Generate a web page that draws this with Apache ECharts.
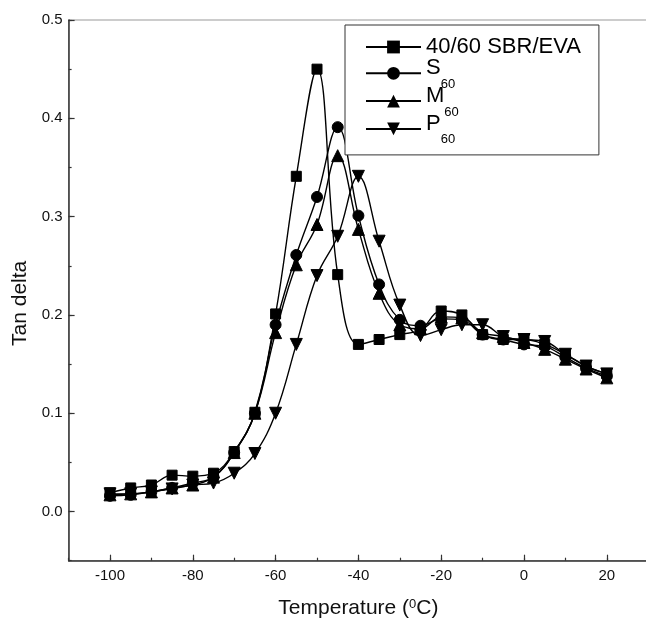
<!DOCTYPE html>
<html><head><meta charset="utf-8">
<script src="https://cdn.jsdelivr.net/npm/echarts@6/dist/echarts.min.js"></script>
<style>html,body{margin:0;padding:0;background:#fff}#c{width:646px;height:618px}</style>
</head><body><div id="c"></div>
<script>
const temperatures = [-100,-95,-90,-85,-80,-75,-70,-65,-60,-55,-50,-45,-40,-35,-30,-25,-20,-15,-10,-5,0,5,10,15,20];
const sbrEva = [0.019,0.024,0.027,0.037,0.036,0.039,0.061,0.101,0.201,0.341,0.450,0.241,0.170,0.175,0.180,0.185,0.204,0.200,0.180,0.175,0.175,0.170,0.160,0.148,0.140];
const s60    = [0.016,0.017,0.020,0.024,0.029,0.035,0.060,0.100,0.190,0.261,0.320,0.391,0.301,0.231,0.195,0.189,0.196,0.195,0.180,0.175,0.170,0.168,0.157,0.146,0.138];
const m60    = [0.017,0.018,0.020,0.024,0.027,0.035,0.060,0.100,0.182,0.251,0.292,0.362,0.287,0.222,0.190,0.186,0.198,0.197,0.182,0.178,0.172,0.165,0.155,0.145,0.136];
const p60    = [0.018,0.018,0.020,0.023,0.027,0.029,0.039,0.059,0.100,0.170,0.240,0.280,0.341,0.275,0.210,0.179,0.185,0.190,0.190,0.178,0.175,0.173,0.160,0.148,0.140];
const seriesNames = ['40/60 SBR/EVA','S60','M60','P60'];
const xMajorTicks = [-100,-80,-60,-40,-20,0,20];
const yMajorTicks = [0,0.1,0.2,0.3,0.4,0.5];
const xTitle = 'Temperature (';
const yTitle = 'Tan delta';

const FONT = '"Liberation Sans", Arial, sans-serif';
const chart = echarts.init(document.getElementById('c'), null, {renderer:'canvas'});
function pairs(ys){ return temperatures.map((t,i)=>[t, ys[i]]); }
function mk(name, data, symbol, size, rot){
  return {
    name, type:'line', data: pairs(data), smooth:0.4,
    symbol, symbolSize:size, symbolRotate: rot||0,
    lineStyle:{color:'#000', width:1.4},
    itemStyle:{color:'#000', borderColor:'#000'},
    emphasis:{disabled:true}, animation:false, z:3
  };
}
const axisLineStyle = {color:'#333', width:1.5};
const option = {
  animation:false,
  backgroundColor:'#fff',
  grid:{left:68.6, width:579.6, top:20, bottom:57.3, show:true, borderColor:'#999', borderWidth:1,
        containLabel:false, outerBoundsMode:'none'},
  xAxis:[{
    type:'value', min:-110, max:30, interval:10,
    axisLine:{show:true, onZero:false, lineStyle:axisLineStyle},
    axisTick:{show:true, inside:true, length:3, lineStyle:{color:'#333', width:1.2}},
    splitLine:{show:false},
    axisLabel:{color:'#111', fontFamily:FONT, fontSize:15, margin:8,
      formatter:v=> (Math.abs(v%20)<1e-9 ? String(v) : '')},
    name: xTitle + '{sup|0}C)', nameLocation:'middle', nameGap:37,
    nameTextStyle:{color:'#111', fontFamily:FONT, fontSize:21,
      rich:{sup:{fontSize:13, fontFamily:FONT, color:'#111', verticalAlign:'top', lineHeight:12, padding:[0,0,10,0]}}}
  },{
    type:'value', min:-110, max:30, position:'bottom',
    axisLine:{show:false, onZero:false}, axisLabel:{show:false}, splitLine:{show:false},
    axisTick:{show:true, inside:true, length:6, customValues:xMajorTicks, lineStyle:{color:'#333', width:1.2}}
  }],
  yAxis:[{
    type:'value', min:-0.05, max:0.5, interval:0.05,
    axisLine:{show:true, onZero:false, lineStyle:axisLineStyle},
    axisTick:{show:true, inside:true, length:3, lineStyle:{color:'#333', width:1.2}},
    splitLine:{show:false},
    axisLabel:{color:'#111', fontFamily:FONT, fontSize:15, margin:6,
      formatter:v=>{ const r=Math.round(v*10); return Math.abs(r-v*10)<1e-6 ? (r/10).toFixed(1) : ''; }},
    name: yTitle, nameLocation:'middle', nameGap:37, nameRotate:90,
    nameTextStyle:{color:'#111', fontFamily:FONT, fontSize:21, padding:[0,26,0,0]}
  },{
    type:'value', min:-0.05, max:0.5, position:'left',
    axisLine:{show:false, onZero:false}, axisLabel:{show:false}, splitLine:{show:false},
    axisTick:{show:true, inside:true, length:6, customValues:yMajorTicks, lineStyle:{color:'#333', width:1.2}}
  }],
  legend:{
    orient:'vertical', left:345, top:25,
    padding:[5.5,18,8,20], itemGap:-8.2, itemWidth:55, itemHeight:16,
    borderColor:'#333', borderWidth:1, backgroundColor:'#fff',
    data: seriesNames,
    textStyle:{color:'#000', fontFamily:FONT, fontSize:22,
      rich:{
        m:{fontSize:22, fontFamily:FONT, color:'#000', lineHeight:20, padding:[5.5,0,5.5,0]},
        t:{fontSize:22, fontFamily:FONT, color:'#000', lineHeight:20, padding:[2,0,12,0]},
        sub:{fontSize:13, fontFamily:FONT, color:'#000', lineHeight:12, padding:[22,0,0,0]}
      }},
    formatter:n=>{
      if(n==='40/60 SBR/EVA') return '{m|'+n+'}';
      return '{t|'+n.charAt(0)+'}{sub|'+n.slice(1)+'}';
    }
  },
  series:[
    mk(seriesNames[0], sbrEva, 'rect', 10),
    mk(seriesNames[1], s60, 'circle', 11),
    mk(seriesNames[2], m60, 'triangle', 12),
    mk(seriesNames[3], p60, 'triangle', 12, 180)
  ]
};
chart.setOption(option);
</script></body></html>
